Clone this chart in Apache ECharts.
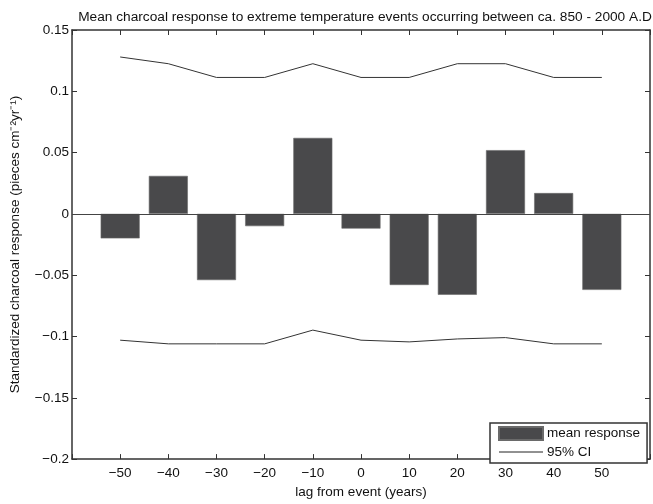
<!DOCTYPE html>
<html><head><meta charset="utf-8">
<script src="https://cdn.jsdelivr.net/npm/echarts@6/dist/echarts.min.js"></script>
<style>html,body{margin:0;padding:0;background:#fff}#c{width:653px;height:504px}</style>
</head><body><div id="c"></div>
<script>
const lags = [-50, -40, -30, -20, -10, 0, 10, 20, 30, 40, 50];
const meanResponse = [-0.020, 0.031, -0.054, -0.010, 0.062, -0.012, -0.058, -0.066, 0.052, 0.017, -0.062];
const ciUpper = [0.128, 0.1225, 0.1113, 0.1113, 0.1225, 0.1113, 0.1113, 0.1225, 0.1225, 0.1113, 0.1113];
const ciLower = [-0.103, -0.106, -0.106, -0.106, -0.0948, -0.103, -0.1044, -0.102, -0.1009, -0.106, -0.106];
const yTicks = [-0.2, -0.15, -0.1, -0.05, 0, 0.05, 0.1, 0.15];

const AX = '#333';
const FONT = 'Liberation Sans';
const FS = 13.5;
const fmtY = v => {
  const r = Math.round(v * 100) / 100;
  if (r === 0) return '0';
  return (r < 0 ? '\u2212' : '') + String(Math.abs(r));
};
const fmtX = v => (v <= -60 || v >= 60) ? '' : (v < 0 ? '\u2212' + Math.abs(v) : String(v));

const chart = echarts.init(document.getElementById('c'), null, {renderer: 'canvas'});
const baseX = {
  type: 'value', min: -60, max: 60, interval: 10,
  axisLine: {show: true, onZero: false, lineStyle: {color: AX, width: 1.5}},
  axisTick: {show: true, inside: true, length: 5, lineStyle: {color: AX, width: 1}},
  splitLine: {show: false}
};
const baseY = {
  type: 'value', min: -0.2, max: 0.15, interval: 0.05,
  axisLine: {show: true, onZero: false, lineStyle: {color: AX, width: 1.5}},
  axisTick: {show: true, inside: true, length: 5, lineStyle: {color: AX, width: 1}},
  splitLine: {show: false}
};
chart.setOption({
  animation: false,
  textStyle: {fontFamily: FONT},
  title: {
    text: 'Mean charcoal response to extreme temperature events occurring between ca. 850 - 2000 A.D',
    left: 360, top: 5, textAlign: 'center',
    textStyle: {fontFamily: FONT, fontSize: 13.7, fontWeight: 'normal', color: '#111'}
  },
  grid: {left: 71, right: 2, top: 30, bottom: 37, containLabel: false},
  xAxis: [
    Object.assign({}, baseX, {
      position: 'bottom',
      name: 'lag from event (years)', nameLocation: 'middle', nameGap: 24,
      nameTextStyle: {fontFamily: FONT, fontSize: FS, color: '#111'},
      axisLabel: {formatter: fmtX, fontFamily: FONT, fontSize: FS, color: '#111', margin: 7}
    }),
    Object.assign({}, baseX, {position: 'top', axisLabel: {show: false}})
  ],
  yAxis: [
    Object.assign({}, baseY, {
      position: 'left',
      name: 'Standardized charcoal response (pieces cm\u207B\u00B2yr\u207B\u00B9)',
      nameLocation: 'middle', nameGap: 50, nameRotate: 90,
      nameTextStyle: {fontFamily: FONT, fontSize: FS, color: '#111'},
      axisLabel: {formatter: fmtY, fontFamily: FONT, fontSize: FS, color: '#111', margin: 3}
    }),
    Object.assign({}, baseY, {position: 'right', axisLabel: {show: false}})
  ],
  legend: {
    orient: 'vertical', left: 490, top: 423,
    padding: [3, 7, 4, 8], itemGap: 4, itemWidth: 44, itemHeight: 13,
    borderColor: AX, borderWidth: 1.5, backgroundColor: '#fff',
    textStyle: {fontFamily: FONT, fontSize: FS, color: '#111', padding: [0, 0, 0, -1]},
    data: [
      {name: 'mean response', icon: 'rect'},
      {name: '95% CI', icon: 'line', itemStyle: {color: '#222', borderColor: '#222', borderWidth: 1}}
    ]
  },
  series: [
    {
      name: 'mean response', type: 'bar', xAxisIndex: 0, yAxisIndex: 0,
      barWidth: 39,
      data: lags.map((x, i) => [x, meanResponse[i]]),
      itemStyle: {color: '#49494b', borderColor: '#6a6a6a', borderWidth: 0.6},
      markLine: {
        silent: true, symbol: 'none', label: {show: false},
        lineStyle: {color: '#444', width: 1, type: 'solid'},
        data: [{yAxis: 0}]
      }
    },
    {
      name: '95% CI', type: 'line', xAxisIndex: 0, yAxisIndex: 0,
      symbol: 'none', data: lags.map((x, i) => [x, ciUpper[i]]),
      lineStyle: {color: '#333', width: 1}, itemStyle: {color: '#333'}
    },
    {
      name: '95% CI', type: 'line', xAxisIndex: 0, yAxisIndex: 0,
      symbol: 'none', data: lags.map((x, i) => [x, ciLower[i]]),
      lineStyle: {color: '#333', width: 1}, itemStyle: {color: '#333'}
    }
  ]
});
</script></body></html>
